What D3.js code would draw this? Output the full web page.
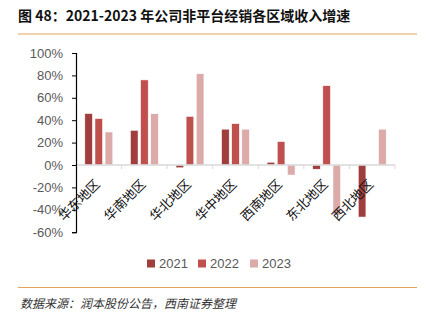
<!DOCTYPE html>
<html lang="zh">
<head>
<meta charset="UTF-8">
<title>区域收入增速</title>
<script src="https://d3js.org/d3.v7.min.js"></script>
<style>
  body { margin: 0; background: #fff; }
  svg { display: block; }
  .title { font: bold 14px "Noto Sans CJK SC", sans-serif; fill: #111; }
  .ytick text { font: 13px "Liberation Sans", Arial, sans-serif; fill: #595959; }
  .xlabel { font: 13px "Noto Sans CJK SC", sans-serif; fill: #111; }
  .legend text { font: 13px "Liberation Sans", Arial, sans-serif; fill: #595959; }
  .source { font: italic 12px "Noto Sans CJK SC", sans-serif; fill: #333; }
</style>
</head>
<body>
<svg id="chart" width="423" height="321"></svg>
<script>
const regions = ['华东地区', '华南地区', '华北地区', '华中地区', '西南地区', '东北地区', '西北地区'];
const years = ['2021', '2022', '2023'];
const growth2021 = [46, 31, -2.5, 32, 2.5, -3.8, -46.5];
const growth2022 = [41.5, 76, 43.5, 37, 21, 70.8, null];
const growth2023 = [29.5, 45.8, 81.5, 32, -9, -44.6, 32];
const yTicks = [-60, -40, -20, 0, 20, 40, 60, 80, 100];
const colors = ['#a03e3d', '#c0504d', '#dcaaa9'];

const seriesByYear = [growth2021, growth2022, growth2023];

const svg = d3.select('#chart');
const width = 423;

// title and rules
svg.append('text').attr('class', 'title')
  .attr('x', 18).attr('y', 21)
  .text('图 48：2021-2023 年公司非平台经销各区域收入增速');
svg.append('line')
  .attr('x1', 18).attr('x2', 417).attr('y1', 34).attr('y2', 34)
  .attr('stroke', '#e5a45c').attr('stroke-width', 1.2);

const plotLeft = 76, plotRight = 395, plotTop = 53, plotBottom = 232.2;

const x = d3.scaleBand().domain(regions).range([plotLeft, plotRight]);
const x1 = d3.scaleBand().domain(years).range([8.8, 36.8]).paddingInner(0.24);
const y = d3.scaleLinear().domain([-60, 100]).range([plotBottom, plotTop]);

// bars
const bars = [];
regions.forEach((r, i) => {
  years.forEach((yr, j) => {
    const v = seriesByYear[j][i];
    if (v !== null) bars.push({ region: r, year: yr, value: v, color: colors[j] });
  });
});

svg.append('g').selectAll('rect')
  .data(bars)
  .join('rect')
  .attr('x', d => x(d.region) + x1(d.year))
  .attr('width', x1.bandwidth())
  .attr('y', d => y(Math.max(0, d.value)))
  .attr('height', d => Math.abs(y(d.value) - y(0)))
  .attr('fill', d => d.color)
  .attr('stroke', '#fff')
  .attr('stroke-width', 0.6);

// x axis line at zero with category boundary ticks
const zeroY = y(0);
svg.append('line')
  .attr('x1', plotLeft).attr('x2', plotRight)
  .attr('y1', zeroY).attr('y2', zeroY)
  .attr('stroke', '#d9d9d9').attr('stroke-width', 1.5);
svg.append('g').selectAll('line')
  .data(regions.slice(1).map(r => x(r)).concat([plotRight]))
  .join('line')
  .attr('x1', d => d).attr('x2', d => d)
  .attr('y1', zeroY).attr('y2', zeroY + 4)
  .attr('stroke', '#d9d9d9').attr('stroke-width', 1);

// y axis
const yAxis = svg.append('g')
  .attr('class', 'ytick')
  .attr('transform', `translate(${plotLeft},0)`)
  .call(d3.axisLeft(y).tickValues(yTicks).tickSize(4).tickPadding(9).tickFormat(d => d + '%'));
yAxis.select('.domain').attr('stroke', '#000').attr('stroke-width', 1.2);
yAxis.selectAll('.tick line').attr('stroke', '#000').attr('stroke-width', 1);

// rotated category labels
svg.append('g').selectAll('text')
  .data(regions)
  .join('text')
  .attr('class', 'xlabel')
  .attr('text-anchor', 'end')
  .attr('transform', d => `translate(${x(d) + x.bandwidth() / 2 + 2},${zeroY + 20}) rotate(-45)`)
  .text(d => d);

// legend
const legendX = [147, 198, 250];
const legend = svg.append('g').attr('class', 'legend');
years.forEach((yr, j) => {
  legend.append('rect')
    .attr('x', legendX[j]).attr('y', 259.5)
    .attr('width', 8).attr('height', 8)
    .attr('fill', colors[j]);
  legend.append('text')
    .attr('x', legendX[j] + 12).attr('y', 268)
    .text(yr);
});

// bottom rule and source
svg.append('line')
  .attr('x1', 18).attr('x2', 417).attr('y1', 287.5).attr('y2', 287.5)
  .attr('stroke', '#e5a45c').attr('stroke-width', 1.2);
svg.append('text').attr('class', 'source')
  .attr('x', 20).attr('y', 308)
  .text('数据来源：润本股份公告，西南证券整理');
</script>
</body>
</html>
